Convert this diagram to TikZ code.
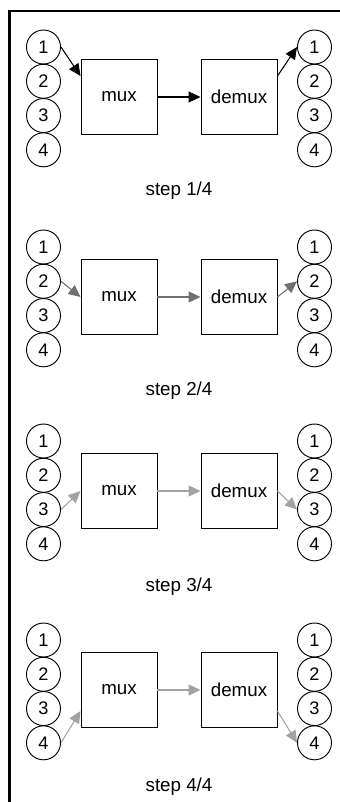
\documentclass[tikz,border=0pt]{standalone}
\usepackage{fontspec}
\setmainfont{Liberation Sans}
\usepackage{xcolor}
\usepackage{tikz}
\usetikzlibrary{shapes,arrows.meta,positioning}
\definecolor{activegray}{RGB}{112,112,112}
\definecolor{fadegray}{RGB}{162,162,162}

\begin{document}
\begin{tikzpicture}[
    x=0.03cm, y=-0.03cm,
    node distance=-0.02cm,
    font=\fontsize{16pt}{19pt}\selectfont,
    port/.style={circle, draw, line width=0.8pt, minimum size=1.02cm, inner sep=0pt, font=\fontsize{15.5pt}{18pt}\selectfont},
    box/.style={rectangle, draw, line width=0.8pt, minimum width=2.28cm, minimum height=2.25cm},
    flow/.style={-{Triangle[length=0.36cm, width=0.33cm]}, line width=0.9pt}
]
\useasboundingbox (0,0) rectangle (340,802);

% Frame
\draw[line width=0.07cm] (9.5,810) -- (9.5,11) -- (345,11);

% Step 1/4
\node[port] (in11) at (43.5,47) {1};
\node[port, below=of in11] (in12) {2};
\node[port, below=of in12] (in13) {3};
\node[port, below=of in13] (in14) {4};
\node[box] (mux1) at (119,97) {mux};
\node[box] (demux1) at (239,97) {demux};
\node[port] (out11) at (314.5,47) {1};
\node[port, below=of out11] (out12) {2};
\node[port, below=of out12] (out13) {3};
\node[port, below=of out13] (out14) {4};
\node (step1) at (179,191) {step 1/4};
\draw[flow] (in11.east) -- ([yshift=0.63cm]mux1.west);
\draw[flow] (mux1) -- (demux1);
\draw[flow] ([yshift=0.63cm]demux1.east) -- (out11.west);

% Step 2/4
\node[port] (in21) at (43.5,247) {1};
\node[port, below=of in21] (in22) {2};
\node[port, below=of in22] (in23) {3};
\node[port, below=of in23] (in24) {4};
\node[box] (mux2) at (119,297) {mux};
\node[box] (demux2) at (239,297) {demux};
\node[port] (out21) at (314.5,247) {1};
\node[port, below=of out21] (out22) {2};
\node[port, below=of out22] (out23) {3};
\node[port, below=of out23] (out24) {4};
\node (step2) at (179,391) {step 2/4};
\draw[flow, activegray] (in22.east) -- (mux2.west);
\draw[flow, activegray] (mux2) -- (demux2);
\draw[flow, activegray] (demux2.east) -- (out22.west);

% Step 3/4
\node[port] (in31) at (43.5,441) {1};
\node[port, below=of in31] (in32) {2};
\node[port, below=of in32] (in33) {3};
\node[port, below=of in33] (in34) {4};
\node[box] (mux3) at (119,491) {mux};
\node[box] (demux3) at (239,491) {demux};
\node[port] (out31) at (314.5,441) {1};
\node[port, below=of out31] (out32) {2};
\node[port, below=of out32] (out33) {3};
\node[port, below=of out33] (out34) {4};
\node (step3) at (179,587) {step 3/4};
\draw[flow, fadegray] (in33.east) -- (mux3.west);
\draw[flow, fadegray] (mux3) -- (demux3);
\draw[flow, fadegray] (demux3.east) -- (out33.west);

% Step 4/4
\node[port] (in41) at (43.5,640) {1};
\node[port, below=of in41] (in42) {2};
\node[port, below=of in42] (in43) {3};
\node[port, below=of in43] (in44) {4};
\node[box] (mux4) at (119,690) {mux};
\node[box] (demux4) at (239,690) {demux};
\node[port] (out41) at (314.5,640) {1};
\node[port, below=of out41] (out42) {2};
\node[port, below=of out42] (out43) {3};
\node[port, below=of out43] (out44) {4};
\node (step4) at (179,787) {step 4/4};
\draw[flow, fadegray] (in44.east) -- ([yshift=-0.63cm]mux4.west);
\draw[flow, fadegray] (mux4) -- (demux4);
\draw[flow, fadegray] ([yshift=-0.63cm]demux4.east) -- (out44.west);

\end{tikzpicture}
\end{document}
